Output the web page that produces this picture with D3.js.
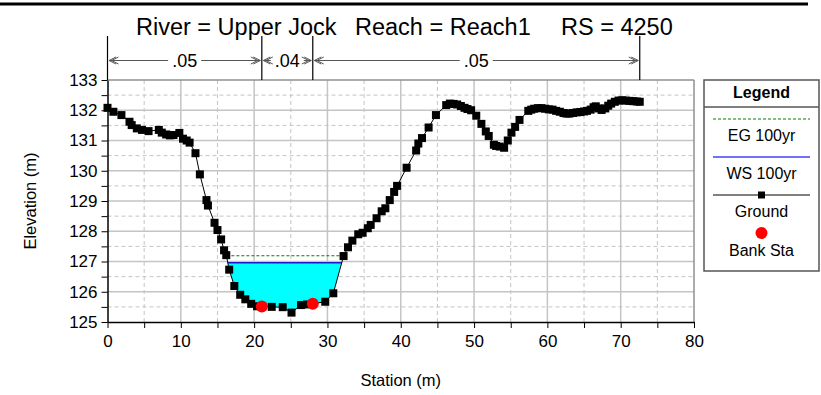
<!DOCTYPE html>
<html><head><meta charset="utf-8">
<script src="https://cdn.jsdelivr.net/npm/d3@7"></script>
<style>
body{margin:0;background:#fff}
svg{display:block}
text{font-family:"Liberation Sans",Arial,sans-serif;fill:#000}
</style>
</head><body>
<svg id="c" width="821" height="395"></svg>
<script>
// ---- data ----
const titleParts = ["River = Upper Jock", "Reach = Reach1", "RS = 4250"];
const stations = [
  0, 0.8, 1.9, 3.0, 3.3, 4.0, 4.7, 5.6, 7.0, 7.4,
  8.0, 8.5, 9.0, 9.8, 10.3, 10.8, 11.2, 12.0, 12.6, 13.5,
  13.7, 14.6, 15.0, 15.5, 15.9, 16.2, 16.6, 17.3, 18.1, 18.8,
  19.6, 20.4, 21.05, 22.4, 23.9, 25.1, 26.4, 27.2, 28.0, 29.7,
  30.8, 32.2, 32.8, 33.4, 34.2, 34.8, 35.5, 35.9, 36.7, 37.4,
  37.9, 38.5, 39.1, 39.5, 40.8, 42.1, 42.4, 42.9, 43.8, 44.8,
  46.2, 46.7, 47.2, 47.7, 48.2, 48.7, 49.1, 49.6, 50.3, 51.0,
  51.6, 52.0, 52.7, 53.0, 53.5, 54.1, 54.6, 55.1, 55.6, 56.2,
  57.4, 57.8, 58.2, 58.7, 59.2, 59.7, 60.2, 60.7, 61.2, 61.7,
  62.2, 62.6, 63.0, 63.5, 64.0, 64.5, 65.0, 65.4, 65.9, 66.3,
  66.6, 67.0, 67.4, 67.9, 68.3, 68.7, 69.2, 69.7, 70.2, 70.7,
  71.2, 71.7, 72.2, 72.6
];
const elevations = [
  132.08, 131.95, 131.84, 131.62, 131.51, 131.40, 131.35, 131.31, 131.35, 131.26,
  131.20, 131.17, 131.18, 131.25, 131.06, 131.00, 130.93, 130.58, 129.88, 129.03,
  128.85, 128.28, 128.04, 127.73, 127.37, 127.21, 126.73, 126.19, 125.90, 125.75,
  125.60, 125.52, 125.51, 125.50, 125.49, 125.31, 125.56, 125.58, 125.60, 125.67,
  125.95, 127.18, 127.47, 127.69, 127.90, 127.95, 128.10, 128.21, 128.43, 128.66,
  128.76, 129.03, 129.30, 129.50, 130.10, 130.67, 130.90, 131.08, 131.43, 131.84,
  132.17, 132.22, 132.21, 132.19, 132.14, 132.08, 132.04, 132.00, 131.82, 131.55,
  131.30, 131.15, 130.86, 130.82, 130.80, 130.76, 131.00, 131.26, 131.45, 131.68,
  131.98, 132.02, 132.05, 132.07, 132.07, 132.05, 132.03, 132.02, 131.98, 131.95,
  131.91, 131.89, 131.89, 131.91, 131.93, 131.94, 131.96, 131.98, 132.02, 132.10,
  132.13, 132.06, 132.01, 132.06, 132.15, 132.22, 132.28, 132.32, 132.33, 132.32,
  132.31, 132.30, 132.29, 132.28
];
const bankStations = [21.05, 28.0];
const bankElevations = [125.51, 125.60];
const wsElevation = 126.96;
const egElevation = 127.19;
const nValues = [".05", ".04", ".05"];
const nBreaks = [0, 21.05, 28.0, 72.6];
const xTickValues = [0, 10, 20, 30, 40, 50, 60, 70, 80];
const yTickValues = [125, 126, 127, 128, 129, 130, 131, 132, 133];
const legendLabels = ["EG 100yr", "WS 100yr", "Ground", "Bank Sta"];
const xLabel = "Station (m)";
const yLabel = "Elevation (m)";

// ---- chart ----
const svg = d3.select("#c");
const L = 107.5, R = 694, T = 80, B = 322;
const x = d3.scaleLinear().domain([0, 80]).range([L, R]);
const y = d3.scaleLinear().domain([125, 133]).range([B, T]);
const ground = stations.map((s, i) => ({s, e: elevations[i]}));

// top rule
svg.append("line").attr("x1", 0).attr("x2", 808).attr("y1", 4).attr("y2", 4)
  .attr("stroke", "#000").attr("stroke-width", 3);

// title
const titleX = [136, 355, 561];
titleParts.forEach((t, i) => {
  svg.append("text").attr("x", titleX[i]).attr("y", 35).attr("font-size", 23.5).text(t);
});

// grid
const g = svg.append("g");
const minorX = d3.range(5, 80, 10), majorX = xTickValues.filter(v => v > 0 && v < 80);
const minorY = d3.range(125.5, 133, 1), majorY = yTickValues.filter(v => v > 125 && v < 133);
g.selectAll(".mx").data(minorX).join("line").attr("x1", d => x(d)).attr("x2", d => x(d))
  .attr("y1", T).attr("y2", B).attr("stroke", "#c4c4c4").attr("stroke-dasharray", "4,3");
g.selectAll(".my").data(minorY).join("line").attr("y1", d => y(d)).attr("y2", d => y(d))
  .attr("x1", L).attr("x2", R).attr("stroke", "#c4c4c4").attr("stroke-dasharray", "4,3");
g.selectAll(".Mx").data(majorX).join("line").attr("x1", d => x(d)).attr("x2", d => x(d))
  .attr("y1", T).attr("y2", B).attr("stroke", "#c4c4c4").attr("stroke-width", 1.5);
g.selectAll(".My").data(majorY).join("line").attr("y1", d => y(d)).attr("y2", d => y(d))
  .attr("x1", L).attr("x2", R).attr("stroke", "#c4c4c4").attr("stroke-width", 1.5);
svg.append("line").attr("x1", L).attr("x2", R).attr("y1", y(133)).attr("y2", y(133)).attr("stroke", "#909090").attr("stroke-width", 1.5);
svg.append("line").attr("x1", R).attr("x2", R).attr("y1", T).attr("y2", B).attr("stroke", "#909090").attr("stroke-width", 1.5);

// water
function crossing(level, fromIdx, dir) {
  let i = fromIdx;
  while (i + dir >= 0 && i + dir < ground.length && ground[i + dir].e < level) i += dir;
  const a = ground[i], b = ground[i + dir];
  const t = (level - a.e) / (b.e - a.e);
  return {idx: i, s: a.s + t * (b.s - a.s)};
}
const lowIdx = d3.minIndex(ground, d => d.e);
const wl = crossing(wsElevation, lowIdx, -1), wr = crossing(wsElevation, lowIdx, 1);
const waterPts = [{s: wl.s, e: wsElevation}].concat(ground.slice(wl.idx, wr.idx + 1), [{s: wr.s, e: wsElevation}]);
svg.append("path").datum(waterPts)
  .attr("d", d3.area().x(d => x(d.s)).y0(y(wsElevation)).y1(d => y(d.e)))
  .attr("fill", "#00ffff");
svg.append("line").attr("x1", x(wl.s)).attr("x2", x(wr.s)).attr("y1", y(wsElevation)).attr("y2", y(wsElevation))
  .attr("stroke", "#1a1acc").attr("stroke-width", 1.5);
const el = crossing(egElevation, lowIdx, -1), er = crossing(egElevation, lowIdx, 1);
svg.append("line").attr("x1", x(el.s)).attr("x2", x(er.s)).attr("y1", y(egElevation)).attr("y2", y(egElevation))
  .attr("stroke", "#008000").attr("stroke-width", 1).attr("stroke-dasharray", "3,2");

// axes
const xa = svg.append("g").attr("transform", `translate(0,${B})`)
  .call(d3.axisBottom(x).tickValues(d3.range(0, 81, 5)).tickFormat(d => d % 10 === 0 ? d : "").tickSize(6).tickSizeOuter(0));
const ya = svg.append("g").attr("transform", `translate(${L},0)`)
  .call(d3.axisLeft(y).tickValues(d3.range(125, 133.01, 0.5)).tickFormat(d => d % 1 === 0 ? d : "").tickSize(6).tickSizeOuter(0));
[xa, ya].forEach(a => {
  a.select(".domain").attr("stroke", "#000").attr("stroke-width", 1.5);
  a.selectAll(".tick line").attr("stroke", "#000");
  a.selectAll(".tick text").attr("font-family", "Liberation Sans, Arial, sans-serif").attr("font-size", 17).attr("fill", "#000");
});
xa.selectAll(".tick text").attr("dy", "0.95em");
ya.selectAll(".tick text").attr("x", -10);

svg.append("text").attr("x", (L + R) / 2).attr("y", 386).attr("text-anchor", "middle").attr("font-size", 16.5).text(xLabel);
svg.append("text").attr("transform", `translate(30,${(T + B) / 2}) rotate(-90)`).attr("text-anchor", "middle")
  .attr("dy", "0.35em").attr("font-size", 16.5).text(yLabel);

// ground
svg.append("path").datum(ground).attr("d", d3.line().x(d => x(d.s)).y(d => y(d.e)))
  .attr("fill", "none").attr("stroke", "#000").attr("stroke-width", 1);
svg.selectAll(".gm").data(ground).join("rect")
  .attr("x", d => x(d.s) - 4).attr("y", d => y(d.e) - 4).attr("width", 8).attr("height", 8).attr("fill", "#000");
svg.selectAll(".bk").data(bankStations).join("circle")
  .attr("cx", d => x(d)).attr("cy", (d, i) => y(bankElevations[i])).attr("r", 6).attr("fill", "#ff0000");

// Manning's n
const ny = 60.5, nTop = 36;
nBreaks.forEach(b => {
  svg.append("line").attr("x1", x(b)).attr("x2", x(b)).attr("y1", nTop).attr("y2", T).attr("stroke", "#000").attr("stroke-width", 1.2);
});
function chevron(tipX, dir) {
  [0, 2.5].forEach(off => {
    const tx = tipX - dir * off;
    svg.append("path").attr("d", `M${tx - dir * 7},${ny - 3.5} L${tx},${ny} L${tx - dir * 7},${ny + 3.5}`)
      .attr("fill", "none").attr("stroke", "#555").attr("stroke-width", 1);
  });
}
nValues.forEach((v, i) => {
  const x1 = x(nBreaks[i]) + 1.5, x2 = x(nBreaks[i + 1]) - 1.5, cx = (x1 + x2) / 2;
  const t = svg.append("text").attr("x", cx).attr("y", ny).attr("dy", "0.35em").attr("text-anchor", "middle")
    .attr("font-size", 18).text(v);
  const w = t.node().getComputedTextLength();
  const gap = w / 2 + 4;
  if (cx - gap > x1 + 3) {
    svg.append("line").attr("x1", x1).attr("x2", cx - gap).attr("y1", ny).attr("y2", ny).attr("stroke", "#555");
    svg.append("line").attr("x1", cx + gap).attr("x2", x2).attr("y1", ny).attr("y2", ny).attr("stroke", "#555");
  }
  chevron(x1, -1);
  chevron(x2, 1);
});

// legend
const lg = svg.append("g");
const lx0 = 704, lx1 = 819, lcx = (lx0 + lx1) / 2;
lg.append("rect").attr("x", lx0).attr("y", 80).attr("width", lx1 - lx0).attr("height", 191)
  .attr("fill", "#fff").attr("stroke", "#555").attr("stroke-width", 1.5);
lg.append("line").attr("x1", lx0).attr("x2", lx1).attr("y1", 107).attr("y2", 107).attr("stroke", "#555").attr("stroke-width", 1.5);
lg.append("text").attr("x", lcx).attr("y", 98).attr("text-anchor", "middle").attr("font-size", 16).attr("font-weight", "bold").text("Legend");
const symY = [119, 157, 195, 233], labY = [141, 179, 217, 256];
lg.append("line").attr("x1", 713).attr("x2", 810).attr("y1", symY[0]).attr("y2", symY[0]).attr("stroke", "#008000").attr("stroke-dasharray", "3,2");
lg.append("line").attr("x1", 713).attr("x2", 810).attr("y1", symY[1]).attr("y2", symY[1]).attr("stroke", "#4040ff").attr("stroke-width", 1.5);
lg.append("line").attr("x1", 713).attr("x2", 810).attr("y1", symY[2]).attr("y2", symY[2]).attr("stroke", "#000");
lg.append("rect").attr("x", lcx - 3.5).attr("y", symY[2] - 3.5).attr("width", 7).attr("height", 7).attr("fill", "#000");
lg.append("circle").attr("cx", lcx).attr("cy", symY[3]).attr("r", 6).attr("fill", "#ff0000");
legendLabels.forEach((t, i) => {
  lg.append("text").attr("x", lcx).attr("y", labY[i]).attr("text-anchor", "middle").attr("font-size", 16).text(t);
});
</script>
</body></html>
